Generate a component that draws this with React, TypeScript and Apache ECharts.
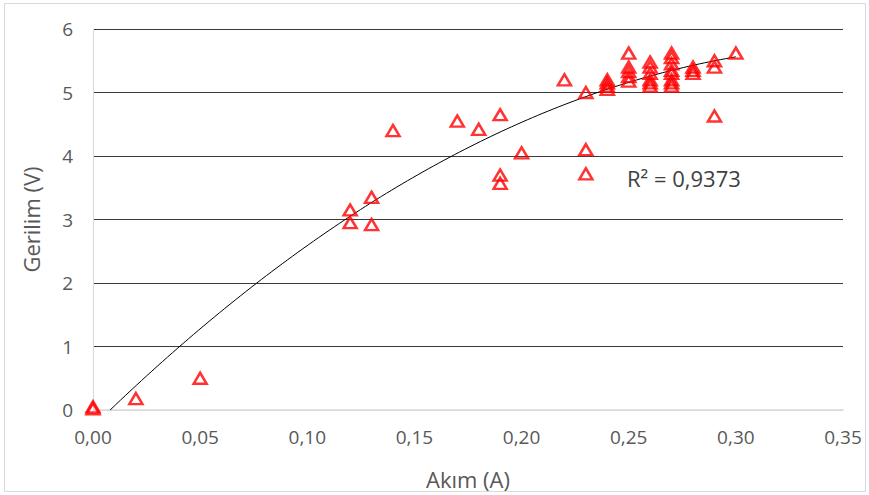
import React, { useEffect, useRef } from "react";
import * as echarts from "echarts";

const currentA: number[] = [
  0.0, 0.0, 0.02, 0.05,
  0.12, 0.12, 0.13, 0.13, 0.14,
  0.17, 0.18, 0.19, 0.19, 0.19, 0.2,
  0.22, 0.23, 0.23, 0.23,
  0.24, 0.24, 0.24, 0.24,
  0.25, 0.25, 0.25, 0.25, 0.25,
  0.26, 0.26, 0.26, 0.26, 0.26, 0.26,
  0.27, 0.27, 0.27, 0.27, 0.27, 0.27, 0.27, 0.27,
  0.28, 0.28, 0.28,
  0.29, 0.29, 0.29,
  0.3,
];
const voltageV: number[] = [
  0.05, 0.02, 0.18, 0.5,
  3.15, 2.95, 3.35, 2.92, 4.4,
  4.55, 4.42, 4.65, 3.7, 3.57, 4.05,
  5.2, 5.0, 4.1, 3.72,
  5.05, 5.1, 5.15, 5.2,
  5.62, 5.4, 5.33, 5.25, 5.18,
  5.48, 5.4, 5.3, 5.2, 5.15, 5.1,
  5.62, 5.55, 5.45, 5.35, 5.3, 5.2, 5.15, 5.1,
  5.4, 5.35, 5.3,
  5.5, 5.4, 4.63,
  5.62,
];
// Polynomial (order 2) trendline coefficients: y = a x^2 + b x + c
const trendA = -45.5;
const trendB = 33.06;
const trendC = -0.2616;
const trendXMax = 0.3;
const r2Label = "R² = 0,9373";
const xTitle = "Akım (A)";
const yTitle = "Gerilim (V)";

export default function App() {
  const ref = useRef<HTMLDivElement>(null);
  useEffect(() => {
    if (!ref.current) return;
    const chart = echarts.init(ref.current, undefined, { renderer: "svg" });
    const root = (-trendB + Math.sqrt(trendB * trendB - 4 * trendA * trendC)) / (2 * trendA);
    const trend: number[][] = [];
    const steps = 120;
    for (let i = 0; i <= steps; i++) {
      const x = root + ((trendXMax - root) * i) / steps;
      trend.push([x, trendA * x * x + trendB * x + trendC]);
    }
    const font = "'Open Sans', 'Noto Sans', sans-serif";
    chart.setOption({
      animation: false,
      grid: { left: 93, right: 26, top: 29, bottom: 83 },
      xAxis: {
        type: "value",
        min: 0,
        max: 0.35,
        interval: 0.05,
        name: xTitle,
        nameLocation: "middle",
        nameGap: 58,
        nameTextStyle: { color: "#595959", fontSize: 22, fontFamily: font },
        axisLine: { show: true, lineStyle: { color: "#d9d9d9", width: 1.5 } },
        axisTick: { show: false },
        splitLine: { show: false },
        axisLabel: {
          color: "#595959",
          fontSize: 19,
          fontFamily: font,
          margin: 17,
          formatter: (v: number) => v.toFixed(2).replace(".", ","),
        },
      },
      yAxis: {
        type: "value",
        min: 0,
        max: 6,
        interval: 1,
        name: yTitle,
        nameLocation: "middle",
        nameGap: 51,
        nameTextStyle: { color: "#595959", fontSize: 22, fontFamily: font },
        axisLine: { show: true, lineStyle: { color: "#d9d9d9", width: 1 } },
        axisTick: { show: false },
        splitLine: {
          show: true,
          lineStyle: { color: ["#d9d9d9", "#3a3a3a", "#3a3a3a", "#3a3a3a", "#3a3a3a", "#3a3a3a", "#3a3a3a"], width: 1 },
        },
        axisLabel: { color: "#595959", fontSize: 19, fontFamily: font, margin: 20 },
      },
      series: [
        {
          type: "line",
          data: trend,
          showSymbol: false,
          symbol: "none",
          lineStyle: { color: "#000", width: 1 },
          silent: true,
          z: 1,
        },
        {
          type: "scatter",
          data: currentA.map((x, i) => [x, voltageV[i]]),
          symbol: "triangle",
          symbolSize: [13, 11],
          itemStyle: { color: "rgba(255,255,255,0)", borderColor: "#ff0000", borderWidth: 2.5 },
          z: 3,
        },
      ],
      graphic: [
        {
          type: "rect",
          shape: { x: 4.5, y: 3.5, width: 861, height: 488 },
          style: { fill: "none", stroke: "#d9d9d9", lineWidth: 1 },
          silent: true,
        },
        {
          type: "text",
          x: 627,
          y: 178,
          style: {
            text: r2Label,
            fill: "#404040",
            fontSize: 22,
            fontFamily: font,
            verticalAlign: "middle",
          },
        },
      ],
    });
    return () => chart.dispose();
  }, []);
  return <div ref={ref} style={{ width: 869, height: 495, position: "absolute", left: 0, top: 0 }} />;
}
